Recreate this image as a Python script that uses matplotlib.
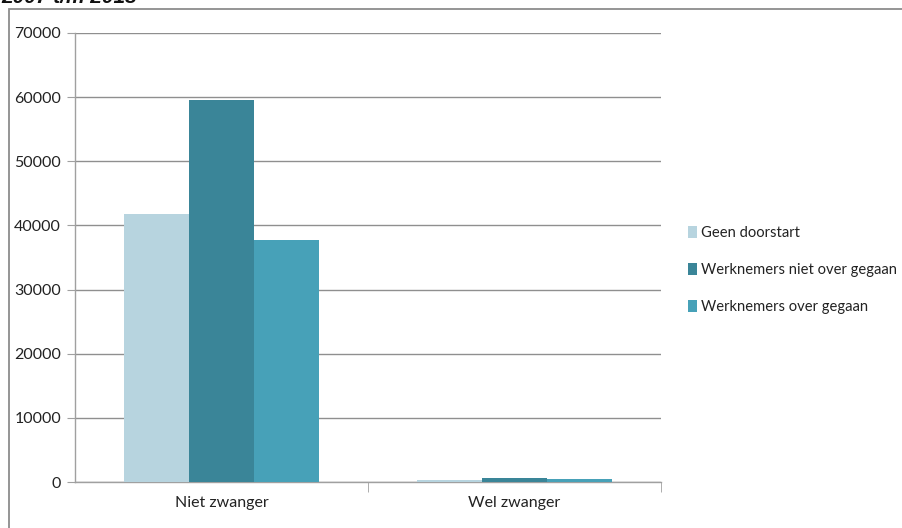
import matplotlib.pyplot as plt
import numpy as np
from matplotlib.patches import Rectangle

plt.rcParams['font.family'] = ['Lato', 'DejaVu Sans']

categories = ['Niet zwanger', 'Wel zwanger']
series_names = ['Geen doorstart', 'Werknemers niet over gegaan', 'Werknemers over gegaan']
geen_doorstart = [41800, 300]
niet_over = [59500, 700]
wel_over = [37800, 400]
colors = ['#b7d4df', '#3a8598', '#47a1b8']

fig = plt.figure(figsize=(9.03, 5.28), dpi=100)

# outer chart frame (runs off the right and bottom edges)
fig.patches.append(Rectangle((9 / 903, -0.05), 1.0, 1 - 9 / 528 + 0.05,
                             transform=fig.transFigure, fill=False,
                             edgecolor='#8c8c8c', linewidth=1.3))

# clipped heading above the frame
fig.text(0.002, 1.0 + 0.004, '2007 t/m 2013', fontsize=15, fontweight='bold',
         fontstyle='italic', family=['Liberation Sans', 'DejaVu Sans'],
         va='center', ha='left', color='#111111')

ax = fig.add_axes([75 / 903, 1 - 482 / 528, (661 - 75) / 903, (482 - 33) / 528])

x = np.arange(len(categories))
w = 0.222
for i, (vals, name) in enumerate(zip([geen_doorstart, niet_over, wel_over], series_names)):
    ax.bar(x + (i - 1) * w, vals, w, color=colors[i], label=name, zorder=3)

ax.set_xlim(-0.5, 1.5)
ax.set_ylim(0, 70000)
ax.set_yticks(np.arange(0, 70001, 10000))
ax.yaxis.grid(True, color='#8f8f8f', linewidth=1.0, zorder=0)
ax.set_axisbelow(True)

for s in ['top', 'right']:
    ax.spines[s].set_visible(False)
for s in ['left', 'bottom']:
    ax.spines[s].set_color('#a0a0a0')
    ax.spines[s].set_linewidth(1.0)

ax.tick_params(axis='y', length=6, color='#a0a0a0', labelsize=11.5,
               labelcolor='#222222', pad=4)
ax.set_xticks(x)
ax.set_xticklabels(categories, fontsize=11.5, color='#222222')
ax.tick_params(axis='x', length=0, pad=10)
ax.set_xticks([0.5, 1.5], minor=True)
ax.tick_params(axis='x', which='minor', length=7, color='#a0a0a0')

leg = fig.legend(loc='center left', bbox_to_anchor=(682 / 903, 1 - 270 / 528),
                 frameon=False, fontsize=10.6, handlelength=0.6, handleheight=0.85,
                 handletextpad=0.3, labelspacing=1.55, borderaxespad=0)
for t in leg.get_texts():
    t.set_color('#222222')

fig.savefig('out.png', dpi=100)
